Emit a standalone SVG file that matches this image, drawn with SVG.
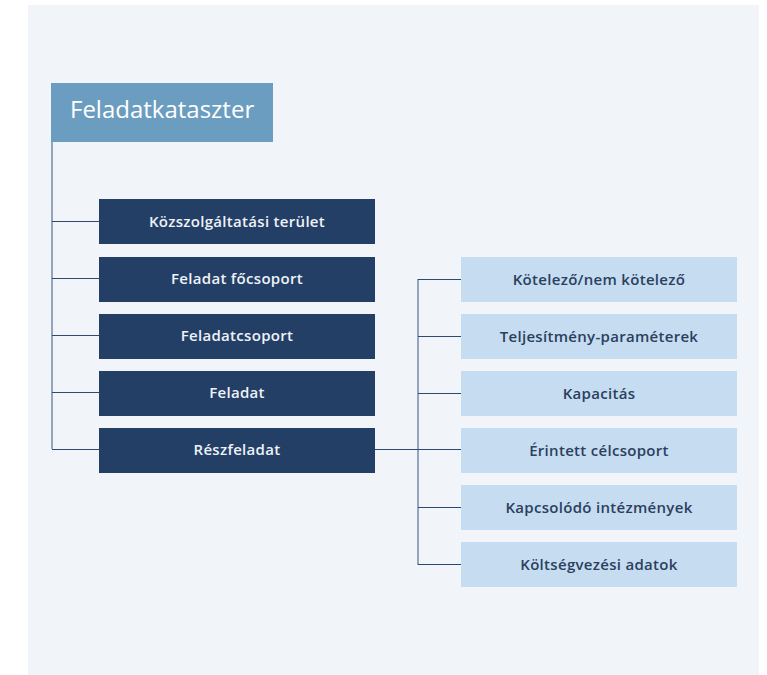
<svg xmlns="http://www.w3.org/2000/svg" width="767" height="675" viewBox="0 0 767 675">
<style>
.t{font-family:"Open Sans","Liberation Sans",sans-serif;font-weight:600;font-size:15px;letter-spacing:0.3px;text-anchor:middle}
.dk rect{fill:#243f66}
.dk text{fill:#eef2f8}
.lt rect{fill:#c5dcf1}
.lt text{fill:#2b3f5e}
.h{stroke:#2d4a70;stroke-width:1.2;fill:none}
.v{stroke:#8a9db6;stroke-width:1.8;fill:none}
</style>
<rect width="767" height="675" fill="#ffffff"/>
<rect x="28" y="5" width="731" height="670" fill="#f1f5fa"/>
<g id="connectors">
<line class="v" x1="52" y1="142" x2="52" y2="449"/>
<line class="h" x1="52" y1="221.5" x2="99" y2="221.5"/>
<line class="h" x1="52" y1="278.5" x2="99" y2="278.5"/>
<line class="h" x1="52" y1="335.5" x2="99" y2="335.5"/>
<line class="h" x1="52" y1="392.5" x2="99" y2="392.5"/>
<line class="h" x1="52" y1="449.5" x2="99" y2="449.5"/>
<line class="v" x1="418" y1="279" x2="418" y2="565"/>
<line class="h" x1="375" y1="449.5" x2="461" y2="449.5"/>
<line class="h" x1="418" y1="279.5" x2="461" y2="279.5"/>
<line class="h" x1="418" y1="336.5" x2="461" y2="336.5"/>
<line class="h" x1="418" y1="393.5" x2="461" y2="393.5"/>
<line class="h" x1="418" y1="507.5" x2="461" y2="507.5"/>
<line class="h" x1="418" y1="564.5" x2="461" y2="564.5"/>
</g>
<g id="root">
<rect x="51" y="83" width="222" height="59" fill="#6b9dc0"/>
<text x="70" y="118" font-family="'Open Sans','Liberation Sans',sans-serif" font-weight="500" font-size="24" fill="#ffffff">Feladatkataszter</text>
</g>
<g id="n1" class="dk"><rect x="99" y="199" width="276" height="45"/><text class="t" x="237" y="226.5">Közszolgáltatási terület</text></g>
<g id="n2" class="dk"><rect x="99" y="257" width="276" height="45"/><text class="t" x="237" y="283.5">Feladat főcsoport</text></g>
<g id="n3" class="dk"><rect x="99" y="314" width="276" height="45"/><text class="t" x="237" y="340.5">Feladatcsoport</text></g>
<g id="n4" class="dk"><rect x="99" y="371" width="276" height="45"/><text class="t" x="237" y="397.5">Feladat</text></g>
<g id="n5" class="dk"><rect x="99" y="428" width="276" height="45"/><text class="t" x="237" y="454.5">Részfeladat</text></g>
<g id="m1" class="lt"><rect x="461" y="257" width="276" height="45"/><text class="t" x="599" y="284.5">Kötelező/nem kötelező</text></g>
<g id="m2" class="lt"><rect x="461" y="314" width="276" height="45"/><text class="t" x="599" y="341.5">Teljesítmény-paraméterek</text></g>
<g id="m3" class="lt"><rect x="461" y="371" width="276" height="45"/><text class="t" x="599" y="398.5">Kapacitás</text></g>
<g id="m4" class="lt"><rect x="461" y="428" width="276" height="45"/><text class="t" x="599" y="455.5">Érintett célcsoport</text></g>
<g id="m5" class="lt"><rect x="461" y="485" width="276" height="45"/><text class="t" x="599" y="512.5">Kapcsolódó intézmények</text></g>
<g id="m6" class="lt"><rect x="461" y="542" width="276" height="45"/><text class="t" x="599" y="569.5">Költségvezési adatok</text></g>
</svg>
